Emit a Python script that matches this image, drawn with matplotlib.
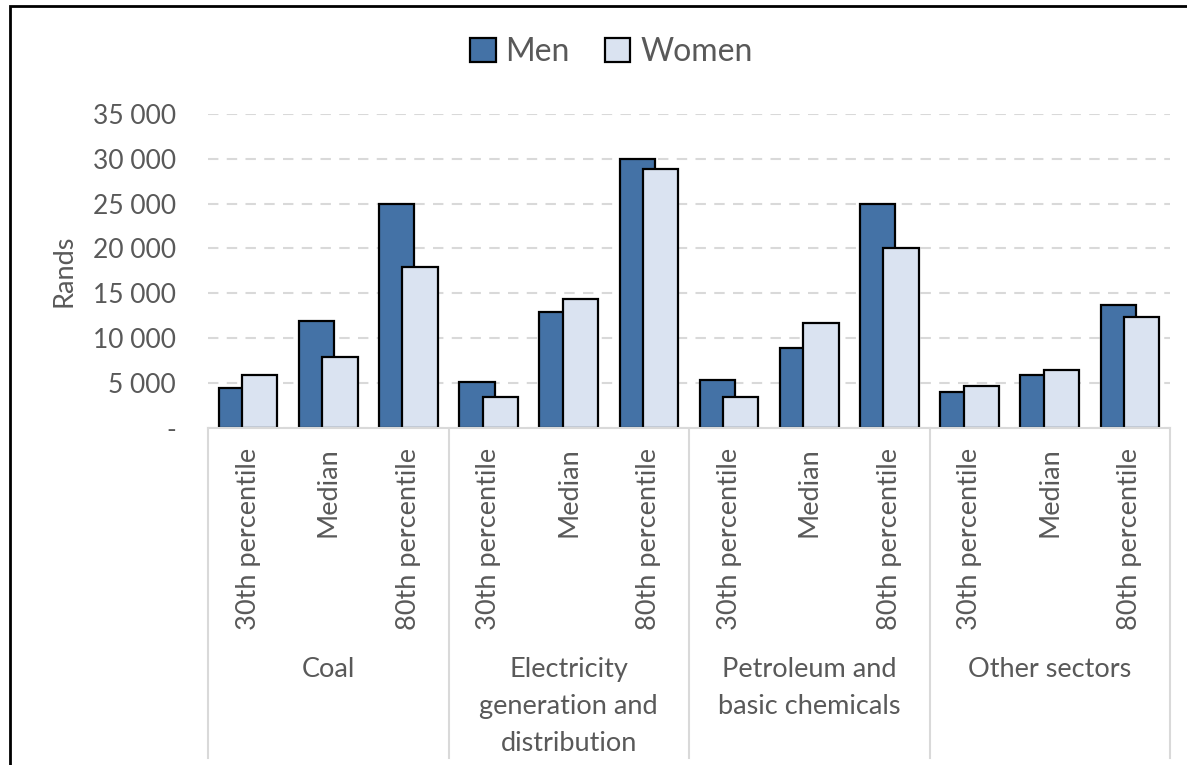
import matplotlib.pyplot as plt
from matplotlib.patches import Rectangle, Patch
from matplotlib.ticker import FuncFormatter
import numpy as np

plt.rcParams['font.family'] = ['Lato', 'DejaVu Sans']

# data (Rands)
sectors = ["Coal", "Electricity\ngeneration and\ndistribution",
           "Petroleum and\nbasic chemicals", "Other sectors"]
stats = ["30th percentile", "Median", "80th percentile"]
men = [4400, 11900, 25000,
       5100, 12900, 30000,
       5300, 8900, 25000,
       4000, 5900, 13700]
women = [5900, 7900, 17900,
         3400, 14400, 28900,
         3400, 11700, 20000,
         4600, 6400, 12300]

men_col = "#4472A6"
women_col = "#DAE3F1"
txt_col = "#595959"
grid_col = "#D9D9D9"

fig = plt.figure(figsize=(11.87, 7.65), dpi=100)
ax = fig.add_axes([208/1187, 337.3/765, 962/1187, 313.7/765])

x = np.arange(len(men))
w = 0.44
off = 0.146
ax.bar(x - off, men, w, color=men_col, edgecolor="black", linewidth=1.6, zorder=3)
ax.bar(x + off, women, w, color=women_col, edgecolor="black", linewidth=1.6, zorder=4)

ax.set_xlim(-0.5, len(men) - 0.5)
ax.set_ylim(0, 35000)
ax.set_yticks(np.arange(0, 35001, 5000))
ax.yaxis.set_major_formatter(FuncFormatter(
    lambda v, p: "-" if v == 0 else "{:,.0f}".format(v).replace(",", " ")))
ax.tick_params(axis="y", length=0, pad=23, labelsize=19, labelcolor=txt_col)
ax.yaxis.grid(True, color=grid_col, linestyle=(0, (5, 4)), linewidth=1.5)
ax.set_axisbelow(True)
for s in ["top", "right", "left"]:
    ax.spines[s].set_visible(False)
ax.spines["bottom"].set_color(grid_col)
ax.spines["bottom"].set_linewidth(1.5)
ax.spines["bottom"].set_zorder(5)

ax.set_ylabel("Rands", fontsize=19.5, color=txt_col)
ax.yaxis.set_label_coords(-0.137, 0.5)

# category labels: rotated stat names, then sector names underneath
ax.set_xticks(x)
ax.set_xticklabels([])
ax.tick_params(axis="x", length=0)
tr = ax.get_xaxis_transform()
px = 1 / 313.7
for i in x:
    ax.text(i, -20 * px, stats[i % 3], transform=tr, rotation=90,
            ha="center", va="top", fontsize=19.5, color=txt_col)
for g, name in enumerate(sectors):
    ax.text(3 * g + 1, -229 * px, name, transform=tr, ha="center", va="top",
            fontsize=19.5, color=txt_col, linespacing=1.6)
for b in np.arange(-0.5, len(men), 3):
    ax.plot([b, b], [0, -330 * px], transform=tr, color=grid_col,
            linewidth=1.5, clip_on=False)

handles = [Patch(facecolor=men_col, edgecolor="black", linewidth=1.6),
           Patch(facecolor=women_col, edgecolor="black", linewidth=1.6)]
fig.legend(handles, ["Men", "Women"], loc="center", bbox_to_anchor=(0.515, 1 - 52/765),
           ncol=2, frameon=False, fontsize=23, labelcolor=txt_col,
           handlelength=0.8, handleheight=0.8, handletextpad=0.3, columnspacing=1.1)

# outer chart frame (runs off the right and bottom edges)
fig.patches.append(Rectangle((10/1187, -0.05), 1.1, 1 - 6.5/765 + 0.05,
                             transform=fig.transFigure, fill=False,
                             edgecolor="black", linewidth=2))

fig.savefig("out.png", dpi=100)
